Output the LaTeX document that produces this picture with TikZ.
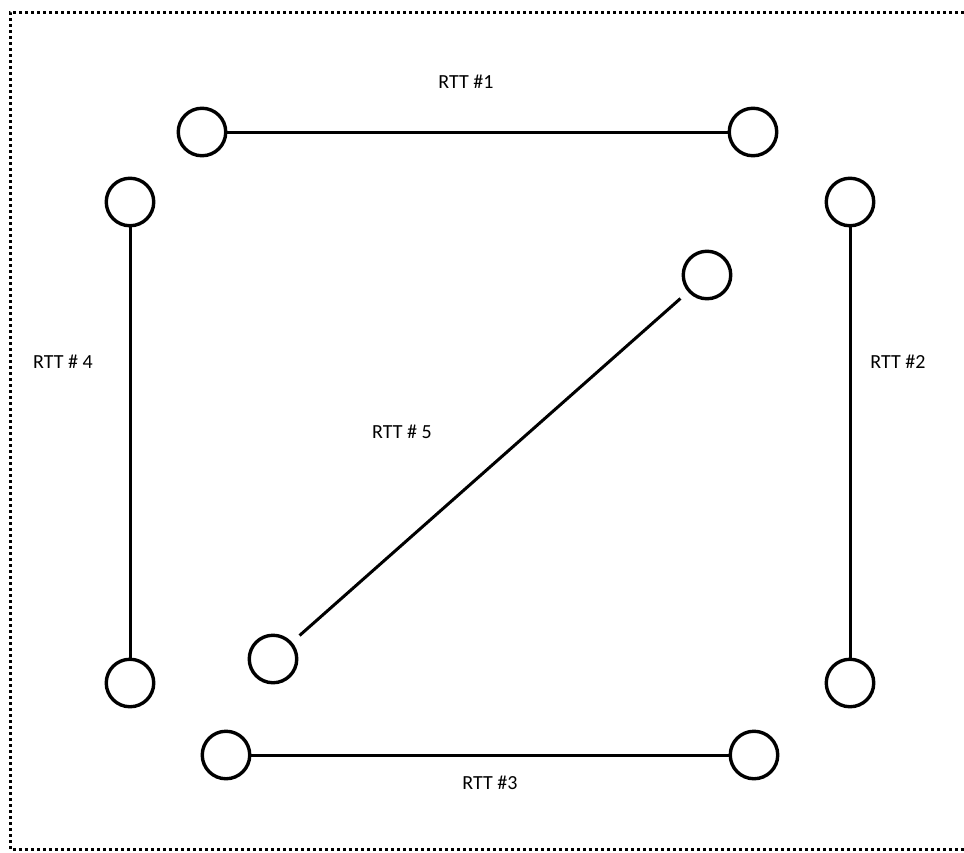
\documentclass[tikz,border=0pt]{standalone}
\usepackage{fontspec}
\setmainfont{Carlito}
\begin{document}
\begin{tikzpicture}[x=1pt,y=-1pt,
  term/.style={circle,draw,line width=3.4pt,minimum size=47.5pt,inner sep=0pt},
  link/.style={line width=3pt},
  lbl/.style={anchor=base,inner sep=0pt,font=\fontsize{20pt}{24pt}\selectfont},
  frame/.style={line width=3pt,dash pattern=on 3pt off 3pt}]
\useasboundingbox (0,0) rectangle (964,852);
\draw[frame] (964,12) -- (10,12) -- (10,849) -- (964,849);
\node[term] (a1) at (202,132) {};
\node[term] (a2) at (753,132) {};
\node[term] (b1) at (850,202) {};
\node[term] (b2) at (850,683) {};
\node[term] (c1) at (226,755) {};
\node[term] (c2) at (754,755) {};
\node[term] (d1) at (130,202) {};
\node[term] (d2) at (130,683) {};
\node[term] (e1) at (273,659) {};
\node[term] (e2) at (707,275) {};
\draw[link] (a1) -- (a2);
\draw[link] (b1) -- (b2);
\draw[link] (c1) -- (c2);
\draw[link] (d1) -- (d2);
\draw[link,shorten <=10pt,shorten >=10pt] (e1) -- (e2);
\node[lbl] (l1) at (466,88.5) {RTT \#1};
\node[lbl] (l2) at (898,368.5) {RTT \#2};
\node[lbl] (l3) at (490,789.5) {RTT \#3};
\node[lbl] (l4) at (63,368.5) {RTT \# 4};
\node[lbl] (l5) at (402,438.5) {RTT \# 5};
\end{tikzpicture}
\end{document}
